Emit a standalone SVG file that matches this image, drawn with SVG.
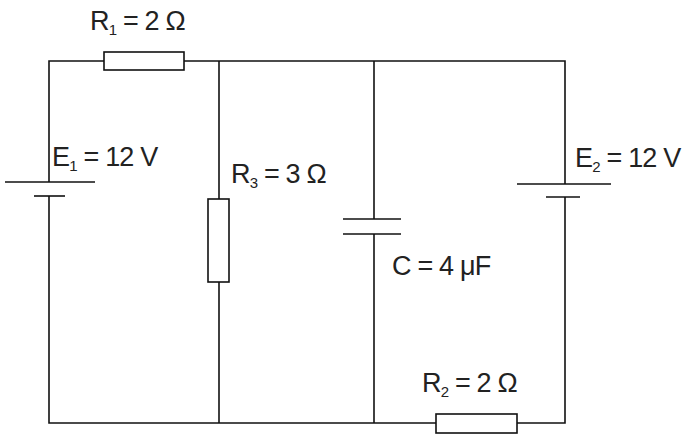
<svg xmlns="http://www.w3.org/2000/svg" width="696" height="448" viewBox="0 0 696 448">
<style>
line,.r{stroke:#111;stroke-width:1.6;fill:none}
.r{fill:#fff}
text{font-family:"Liberation Sans",Arial,sans-serif;font-size:27px;fill:#222;letter-spacing:-0.8px}
.s{font-size:15px}
</style>
<rect width="696" height="448" fill="#fff"/>
<g id="wires">
<polyline points="49,182 49,61 565,61 565,184" fill="none" stroke="#111" stroke-width="1.6"/>
<polyline points="49,196 49,423 565,423 565,197" fill="none" stroke="#111" stroke-width="1.6"/>
<line x1="219" y1="61" x2="219" y2="423"/>
<line x1="374" y1="61" x2="374" y2="219"/>
<line x1="374" y1="234" x2="374" y2="423"/>
</g>
<g id="E1"><line x1="5" y1="182" x2="95" y2="182"/><line x1="34" y1="196" x2="65" y2="196"/>
<text x="52" y="166">E<tspan class="s" dy="5">1</tspan><tspan dy="-5"> = 12 V</tspan></text></g>
<g id="R1"><rect class="r" x="104" y="52" width="80" height="18"/>
<text x="90" y="30">R<tspan class="s" dy="5">1</tspan><tspan dy="-5"> = 2 Ω</tspan></text></g>
<g id="R3"><rect class="r" x="208" y="199" width="21" height="83"/>
<text x="231" y="183">R<tspan class="s" dy="5">3</tspan><tspan dy="-5"> = 3 Ω</tspan></text></g>
<g id="C"><line x1="343" y1="219" x2="401" y2="219"/><line x1="343" y1="234" x2="401" y2="234"/>
<text x="392" y="275">C = 4 μF</text></g>
<g id="E2"><line x1="517" y1="184" x2="611" y2="184"/><line x1="546" y1="197" x2="580" y2="197"/>
<text x="575" y="167">E<tspan class="s" dy="5">2</tspan><tspan dy="-5"> = 12 V</tspan></text></g>
<g id="R2"><rect class="r" x="436" y="414" width="81" height="19"/>
<text x="422" y="392">R<tspan class="s" dy="5">2</tspan><tspan dy="-5"> = 2 Ω</tspan></text></g>
</svg>
